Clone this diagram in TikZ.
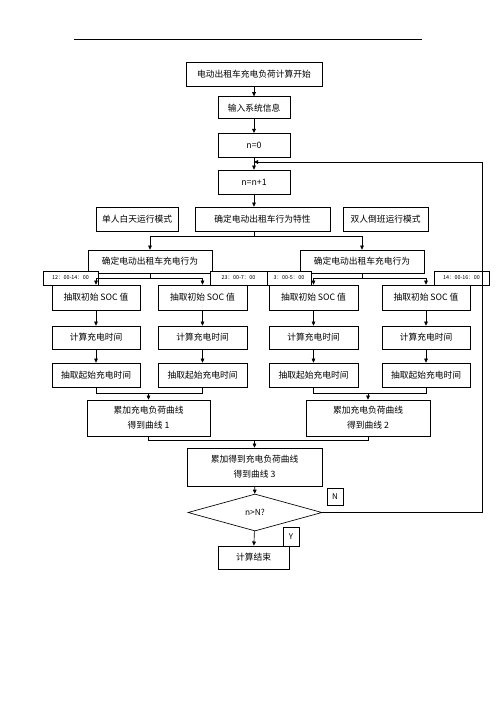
\documentclass[tikz,border=0pt]{standalone}
\usepackage{fontspec}
\setmainfont{Noto Sans CJK SC}
\usetikzlibrary{arrows.meta, positioning, shapes.geometric}

\begin{document}
\begin{tikzpicture}[
    x=1.2pt, y=-1.2pt,
    sz/.style 2 args={minimum width=#1*1.2pt, minimum height=#2*1.2pt},
    box/.style={draw, line width=0.8pt, inner sep=0pt, align=center,
                font=\fontsize{10.5}{18}\selectfont},
    tag/.style={draw, line width=0.5pt, fill=white, inner sep=0pt,
                font=\fontsize{6.5}{7}\selectfont},
    flag/.style={draw, line width=0.7pt, inner sep=0pt, font=\fontsize{9.5}{10}\selectfont},
    decision/.style={diamond, draw, line width=0.8pt, inner sep=0pt, aspect=3.6,
                font=\fontsize{10}{11}\selectfont},
    arrow/.style={-{Triangle[length=5pt, width=4.5pt]}, line width=0.8pt}
  ]
    \useasboundingbox (0,0) rectangle (496,702);
    \draw[line width=0.8pt] (74,39) -- (422,39);

    \node[box, sz={136}{24}] (start) at (254,74) {电动出租车充电负荷计算开始};
    \node[box, sz={72}{22}, below=12pt of start]  (info) {输入系统信息};
    \node[box, sz={72}{24}, below=16.8pt of info] (n0)   {n=0};
    \node[box, sz={72}{24}, below=14.4pt of n0]   (n1)   {n=n+1};

    \node[box, sz={135}{24}] (feat)   at (262.5,219) {确定电动出租车行为特性};
    \node[box, sz={82}{24}]  (single) at (137,219)   {单人白天运行模式};
    \node[box, sz={85}{24}]  (double) at (385.5,219) {双人倒班运行模式};

    \node[box, sz={124}{23}] (chgL) at (150,261.5) {确定电动出租车充电行为};
    \node[box, sz={124}{23}] (chgR) at (362,261.5) {确定电动出租车充电行为};

    \node[tag, sz={55}{14}] (tA) at (70.5,278)  {12：00-14：00};
    \node[tag, sz={57}{14}] (tB) at (238.5,278) {23：00-7：00};
    \node[tag, sz={44}{14}] (tC) at (289,278)   {3：00-5：00};
    \node[tag, sz={55}{14}] (tD) at (461.5,278) {14：00-16：00};

    \node[box, sz={88}{25}] (socA) at (96,297.5)  {抽取初始 SOC 值};
    \node[box, sz={89}{25}] (socB) at (202.5,297.5) {抽取初始 SOC 值};
    \node[box, sz={89}{25}] (socC) at (313.5,297.5) {抽取初始 SOC 值};
    \node[box, sz={88}{25}] (socD) at (426,297.5)  {抽取初始 SOC 值};

    \node[box, sz={88}{23}] (calcA) at (96,337.5)  {计算充电时间};
    \node[box, sz={89}{23}] (calcB) at (202.5,337.5) {计算充电时间};
    \node[box, sz={89}{23}] (calcC) at (313.5,337.5) {计算充电时间};
    \node[box, sz={88}{23}] (calcD) at (426,337.5)  {计算充电时间};

    \node[box, sz={88}{24}] (pickA) at (96,375)  {抽取起始充电时间};
    \node[box, sz={89}{24}] (pickB) at (202.5,375) {抽取起始充电时间};
    \node[box, sz={89}{24}] (pickC) at (313.5,375) {抽取起始充电时间};
    \node[box, sz={88}{24}] (pickD) at (426,375)  {抽取起始充电时间};

    \node[box, sz={123}{36}] (accL) at (148.5,418) {累加充电负荷曲线\\得到曲线 1};
    \node[box, sz={124}{36}] (accR) at (368,418)   {累加充电负荷曲线\\得到曲线 2};

    \node[box, sz={135}{38}] (total) at (254.5,467) {累加得到充电负荷曲线\\得到曲线 3};
    \node[decision, sz={134}{37}] (dia) at (255,512.5) {n>N?};
    \node[box, sz={71}{23}] (finish) at (253.5,557.5) {计算结束};

    \node[flag, sz={16}{17}] (no)  at (335,496.5) {N};
    \node[flag, sz={16}{19}] (yes) at (291,536.5) {Y};

    \coordinate (back) at (254,162);

    \draw[arrow] (start) -- (info);
    \draw[arrow] (info) -- (n0);
    \draw[arrow] (n0) -- (n1);
    \draw[arrow] (n1) -- (n1 |- feat.north);
    \draw[arrow] (n1 |- feat.south) -- ++(0,5) -| (chgL.north);
    \draw[arrow] (n1 |- feat.south) -- ++(0,5) -| (chgR.north);

    \draw[arrow] (chgL.south) -- ++(0,4.5) -| (socA.north);
    \draw[arrow] (chgL.south) -- ++(0,4.5) -| (socB.north);
    \draw[arrow] (chgR.south) -- ++(0,4.5) -| (socC.north);
    \draw[arrow] (chgR.south) -- ++(0,4.5) -| (socD.north);

    \draw[arrow] (socA) -- (calcA);
    \draw[arrow] (socB) -- (calcB);
    \draw[arrow] (socC) -- (calcC);
    \draw[arrow] (socD) -- (calcD);
    \draw[arrow] (calcA) -- (pickA);
    \draw[arrow] (calcB) -- (pickB);
    \draw[arrow] (calcC) -- (pickC);
    \draw[arrow] (calcD) -- (pickD);

    \draw[line width=0.8pt] (pickA.south) -- ++(0,6) coordinate (mA) -| (pickB.south);
    \draw[arrow] (mA -| accL) -- (accL);
    \draw[line width=0.8pt] (pickC.south) -- ++(0,6) coordinate (mB) -| (pickD.south);
    \draw[arrow] (mB -| accR) -- (accR);

    \draw[line width=0.8pt] (accL.south) -- ++(0,4) coordinate (mT) -| (accR.south);
    \draw[arrow] (mT -| total) -- (total);
    \draw[arrow] (total) -- (dia);
    \draw[arrow] (dia) -- (finish);
    \draw[arrow] (dia.east) -- ++(160,0) |- (back);
  \end{tikzpicture}
\end{document}
